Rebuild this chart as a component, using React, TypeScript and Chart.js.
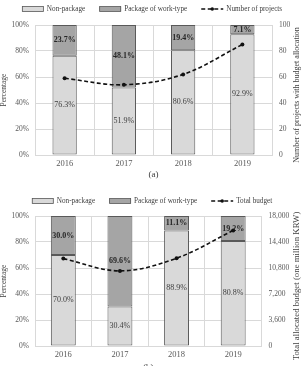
import React, { useEffect, useRef } from "react";
import { Chart, registerables } from "chart.js";

Chart.register(...registerables);

// ---- data ----
const years = ["2016", "2017", "2018", "2019"];

// (a) share of projects
const projectNonPackage = [76.3, 51.9, 80.6, 92.9];
const projectPackage = [23.7, 48.1, 19.4, 7.1];
const projectCounts = [59, 54, 62, 85];

// (b) share of budget
const budgetNonPackage = [70.0, 30.4, 88.9, 80.8];
const budgetPackage = [30.0, 69.6, 11.1, 19.2];
const totalBudget = [12100, 10400, 12150, 16000];

const percentTicks = [0, 20, 40, 60, 80, 100];
const countTicks = [0, 20, 40, 60, 80, 100];
const budgetTicks = [0, 3600, 7200, 10800, 14400, 18000];

const FONT = '"Liberation Serif", "Times New Roman", serif';
const GRID = "#d9d9d9";
const TEXT = "#595959";
const NONPKG_FILL = "#d9d9d9";
const PKG_FILL = "#a5a5a5";
const BAR_EDGE = "#595959";

// Legend row drawn on the canvas: boxes for bars, dashed line with a dot for the line series
const legendRow = {
  id: "legendRow",
  afterDraw(chart: any, _args: any, opts: any) {
    const ctx = chart.ctx as CanvasRenderingContext2D;
    const boxW = 22;
    const boxH = 5;
    const textGap = 3;
    const itemGap = 14;
    ctx.save();
    ctx.font = `7.2px ${FONT}`;
    const items = chart.data.datasets.map((ds: any) => ({
      ds,
      w: boxW + textGap + ctx.measureText(ds.label).width,
    }));
    const total = items.reduce((s: number, it: any) => s + it.w, 0) + itemGap * (items.length - 1);
    let x = opts.centerX - total / 2;
    const y = opts.y;
    items.forEach((it: any) => {
      const ds = it.ds;
      if (ds.type === "line") {
        ctx.strokeStyle = ds.borderColor;
        ctx.lineWidth = ds.borderWidth;
        ctx.setLineDash(ds.borderDash);
        ctx.beginPath();
        ctx.moveTo(x, y);
        ctx.lineTo(x + boxW, y);
        ctx.stroke();
        ctx.setLineDash([]);
        ctx.fillStyle = ds.borderColor;
        ctx.beginPath();
        ctx.arc(x + boxW / 2, y, 1.8, 0, Math.PI * 2);
        ctx.fill();
      } else {
        ctx.fillStyle = ds.backgroundColor;
        ctx.fillRect(x, y - boxH / 2, boxW, boxH);
        ctx.strokeStyle = ds.borderColor;
        ctx.lineWidth = 0.8;
        ctx.strokeRect(x + 0.5, y - boxH / 2, boxW - 1, boxH);
      }
      ctx.fillStyle = "#404040";
      ctx.textAlign = "left";
      ctx.textBaseline = "middle";
      ctx.fillText(ds.label, x + boxW + textGap, y + 0.5);
      x += it.w + itemGap;
    });
    ctx.restore();
  },
};

// Percent labels centred in each stacked segment
const segmentLabels = {
  id: "segmentLabels",
  afterDatasetDraw(chart: any, args: any) {
    if (args.meta.type !== "bar") return;
    const ds = chart.data.datasets[args.index];
    const ctx = chart.ctx as CanvasRenderingContext2D;
    ctx.save();
    ctx.font = `${ds.labelBold ? "bold " : ""}8px ${FONT}`;
    ctx.fillStyle = ds.labelBold ? "#262626" : "#404040";
    ctx.textAlign = "center";
    ctx.textBaseline = "middle";
    args.meta.data.forEach((el: any, i: number) => {
      const { x, y, base } = el.getProps(["x", "y", "base"], true);
      ctx.fillText(Number(ds.data[i]).toFixed(1) + "%", x, (y + base) / 2);
    });
    ctx.restore();
  },
};

// Right-hand axis title, reading bottom to top
const rightTitle = {
  id: "rightTitle",
  afterDraw(chart: any, _args: any, opts: any) {
    const ctx = chart.ctx as CanvasRenderingContext2D;
    const area = chart.chartArea;
    ctx.save();
    ctx.translate(chart.width - opts.inset, (area.top + area.bottom) / 2 + opts.shift);
    ctx.rotate(-Math.PI / 2);
    ctx.font = `${opts.size}px ${FONT}`;
    ctx.fillStyle = "#404040";
    ctx.textAlign = "center";
    ctx.textBaseline = "middle";
    ctx.fillText(opts.text, 0, 0);
    ctx.restore();
  },
};

type PanelProps = {
  nonPkg: number[];
  pkg: number[];
  line: number[];
  lineLabel: string;
  rightTicks: number[];
  rightTitleText: string;
  rightTitleSize: number;
  rightFormat: (v: number) => string;
  caption: string;
  barPct: number;
  height: number;
  top: number;
  xHeight: number;
  rightWidth: number;
  legendY: number;
  captionPad: number;
};

function Panel(p: PanelProps) {
  const ref = useRef<HTMLCanvasElement>(null);
  useEffect(() => {
    const canvas = ref.current;
    if (!canvas) return;
    const rMax = p.rightTicks[p.rightTicks.length - 1];
    const rStep = p.rightTicks[1] - p.rightTicks[0];
    const pMax = percentTicks[percentTicks.length - 1];
    const pStep = percentTicks[1] - percentTicks[0];
    const chart = new Chart(canvas, {
      type: "bar",
      data: {
        labels: years,
        datasets: [
          {
            type: "bar",
            label: "Non-package",
            data: p.nonPkg,
            backgroundColor: NONPKG_FILL,
            borderColor: BAR_EDGE,
            borderWidth: 1,
            borderSkipped: false,
            yAxisID: "y",
            order: 1,
            barPercentage: p.barPct,
            categoryPercentage: 1,
            labelBold: false,
          } as any,
          {
            type: "bar",
            label: "Package of work-type",
            data: p.pkg,
            backgroundColor: PKG_FILL,
            borderColor: BAR_EDGE,
            borderWidth: 1,
            borderSkipped: false,
            yAxisID: "y",
            order: 1,
            barPercentage: p.barPct,
            categoryPercentage: 1,
            labelBold: true,
          } as any,
          {
            type: "line",
            label: p.lineLabel,
            data: p.line,
            yAxisID: "y1",
            borderColor: "#111111",
            backgroundColor: "#111111",
            borderWidth: 1.6,
            borderDash: [4, 2.5],
            pointRadius: 2,
            pointBorderWidth: 0,
            pointBackgroundColor: "#111111",
            tension: 0.35,
            order: 0,
          } as any,
        ],
      },
      options: {
        responsive: false,
        animation: false,
        events: [],
        layout: { padding: { top: p.top, left: 0, right: 0, bottom: 0 } },
        plugins: {
          legend: { display: false },
          tooltip: { enabled: false },
          legendRow: { y: p.legendY, centerX: 152 },
          rightTitle: { text: p.rightTitleText, size: p.rightTitleSize, inset: 5.5, shift: 5 },
        } as any,
        scales: {
          x: {
            stacked: true,
            offset: true,
            grid: { color: GRID, offset: true, drawTicks: false },
            border: { color: GRID },
            ticks: { font: { family: FONT, size: 8.5 }, color: TEXT, padding: 4 },
            title: {
              display: true,
              text: p.caption,
              font: { family: FONT, size: 9 },
              color: "#404040",
              padding: { top: 0, bottom: p.captionPad },
            },
            afterFit: (s: any) => {
              s.height = p.xHeight;
            },
          },
          y: {
            stacked: true,
            min: 0,
            max: pMax,
            grid: { color: GRID, drawTicks: false },
            border: { color: GRID },
            ticks: {
              stepSize: pStep,
              padding: 6,
              font: { family: FONT, size: 7.5 },
              color: TEXT,
              callback: (v: any) => v + "%",
            },
            title: {
              display: true,
              text: "Percentage",
              font: { family: FONT, size: 7.5 },
              color: "#404040",
              padding: 0,
            },
            afterFit: (s: any) => {
              s.width = 35;
            },
          },
          y1: {
            position: "right",
            min: 0,
            max: rMax,
            grid: { display: false, drawTicks: false },
            border: { display: false },
            ticks: {
              stepSize: rStep,
              padding: 7,
              font: { family: FONT, size: 7.5 },
              color: TEXT,
              callback: (v: any) => p.rightFormat(Number(v)),
            },
            afterFit: (s: any) => {
              s.width = p.rightWidth;
            },
          },
        },
      } as any,
      plugins: [segmentLabels, legendRow, rightTitle],
    });
    return () => chart.destroy();
  }, []);
  return <canvas ref={ref} width={302} height={p.height} style={{ display: "block" }} />;
}

export default function App() {
  return (
    <div
      style={{
        position: "absolute",
        left: 0,
        top: 0,
        width: 302,
        height: 366,
        overflow: "hidden",
        background: "#ffffff",
      }}
    >
      <div style={{ height: 180, overflow: "hidden" }}>
        <Panel
          nonPkg={projectNonPackage}
          pkg={projectPackage}
          line={projectCounts}
          lineLabel="Number of projects"
          rightTicks={countTicks}
          rightTitleText="Number of projects with budget allocation"
          rightTitleSize={8}
          rightFormat={(v) => String(v)}
          caption="(a)"
          barPct={0.41}
          height={180}
          top={25}
          xHeight={25}
          rightWidth={30}
          legendY={9}
          captionPad={0}
        />
      </div>
      <div style={{ height: 186, overflow: "hidden" }}>
        <Panel
          nonPkg={budgetNonPackage}
          pkg={budgetPackage}
          line={totalBudget}
          lineLabel="Total budget"
          rightTicks={budgetTicks}
          rightTitleText="Total allocated budget (one million KRW)"
          rightTitleSize={8.8}
          rightFormat={(v) => v.toLocaleString("en-US")}
          caption="(b)"
          barPct={0.44}
          height={196}
          top={36}
          xHeight={30}
          rightWidth={40.5}
          legendY={21}
          captionPad={3}
        />
      </div>
    </div>
  );
}
